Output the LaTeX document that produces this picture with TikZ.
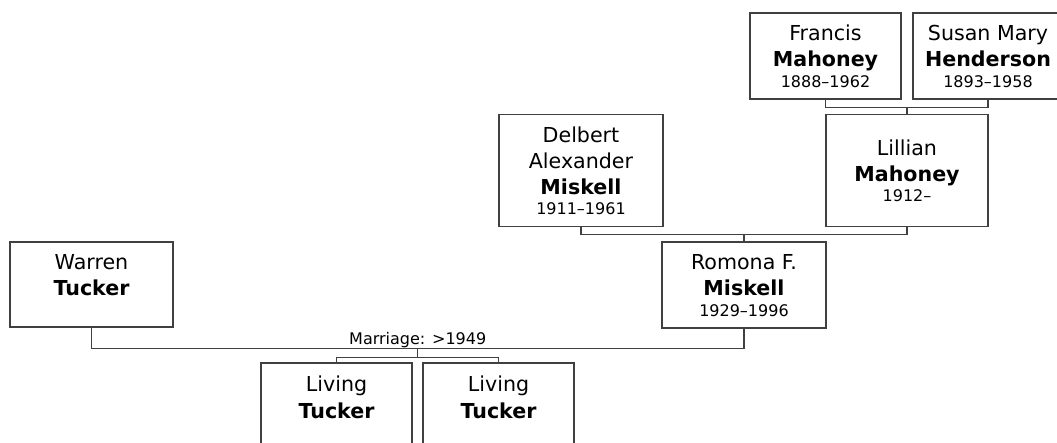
\documentclass[tikz,border=0pt]{standalone}
\usepackage{fontspec}
\setmainfont{DejaVu Sans}
\usetikzlibrary{calc}
\newcommand\namefont{\fontsize{20.6}{26.3}\selectfont}
\newcommand\datefont{\fontsize{16}{20}\selectfont}
\newcommand\who[3]{\rule{0pt}{22pt}#1\\\textbf{#2}\\[-6pt]{\datefont\strut #3}}
\tikzset{
  person/.style ={draw=black!75,line width=1.3pt,rectangle,inner sep=0pt,
                  align=center,font=\namefont},
  conn/.style   ={draw=black!75,line width=1.3pt},
  lbl/.style    ={font=\datefont,inner sep=0pt},
}

\begin{document}
\begin{tikzpicture}[
  x=1pt, y=-1pt,
]
\useasboundingbox (0,0) rectangle (1057,443);
\clip (0,0) rectangle (1057,443);

%% ---------------- persons ----------------
%% grandparents of the mother
\node[person,minimum width=151,minimum height=86] (francis) at (825.5, 56)
  {\who{Francis}{Mahoney}{1888--1962}};
\node[person,minimum width=150,minimum height=86] (susan)   at (988, 56)
  {\who{Susan Mary}{Henderson}{1893--1958}};

%% parents of the mother
\node[person,minimum width=164,minimum height=112] (delbert) at (581, 170.5)
  {\who{Delbert\\Alexander}{Miskell}{1911--1961}};
\node[person,minimum width=162,minimum height=112] (lillian) at (907, 170.5)
  {\who{Lillian}{Mahoney}{1912--}};

%% the couple
\node[person,minimum width=163,minimum height=85] (warren) at (91.5, 284.5)
  {\who{Warren}{Tucker}{}};
\node[person,minimum width=164,minimum height=86] (romona) at (744, 285)
  {\who{Romona F.}{Miskell}{1929--1996}};

%% children
\node[person,minimum width=151,minimum height=88] (living1) at (336.5, 407)
  {\who{Living}{Tucker}{}};
\node[person,minimum width=151,minimum height=88] (living2) at (498.5, 407)
  {\who{Living}{Tucker}{}};

%% ---------------- connectors ----------------
\draw[conn] (francis.south) -- ++(0,8) coordinate (fs) -| (susan.south);
\draw[conn] (lillian.north) -- (lillian.north |- fs);

\draw[conn] (delbert.south) -- ++(0,7.5) coordinate (dl) -| (lillian.south);
\draw[conn] (romona.north) -- (romona.north |- dl);

\draw[conn] (warren.south) -- ++(0,21) -| (romona.south)
  node[lbl,pos=0.25,anchor=south] (mlbl) {Marriage: >1949}
  coordinate[pos=0.25] (wr);

\draw[conn] (wr) -- ++(0,9) coordinate (kids);
\draw[conn] (living1.north) |- (kids) -| (living2.north);

\end{tikzpicture}
\end{document}
